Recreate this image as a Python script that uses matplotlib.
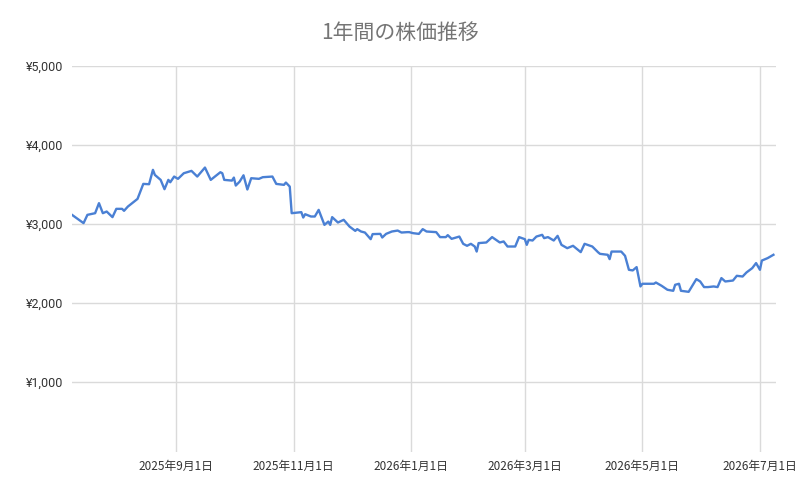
import matplotlib
matplotlib.use("Agg")
import matplotlib.pyplot as plt
import matplotlib.dates as mdates
from matplotlib.ticker import FixedLocator, FuncFormatter
import numpy as np
import datetime as dt

title = "1年間の株価推移"

dates = [
    "2025-07-09", "2025-07-15", "2025-07-17", "2025-07-21", "2025-07-23", "2025-07-25",
    "2025-07-27", "2025-07-30", "2025-08-01", "2025-08-04", "2025-08-05", "2025-08-07",
    "2025-08-12", "2025-08-15", "2025-08-18", "2025-08-20", "2025-08-21", "2025-08-24",
    "2025-08-26", "2025-08-28", "2025-08-29", "2025-08-31", "2025-09-02", "2025-09-05",
    "2025-09-09", "2025-09-12", "2025-09-16", "2025-09-19", "2025-09-24", "2025-09-25",
    "2025-09-26", "2025-09-30", "2025-10-01", "2025-10-02", "2025-10-04", "2025-10-06",
    "2025-10-08", "2025-10-10", "2025-10-14", "2025-10-16", "2025-10-21", "2025-10-23",
    "2025-10-27", "2025-10-28", "2025-10-30", "2025-10-31", "2025-11-05", "2025-11-06",
    "2025-11-07", "2025-11-10", "2025-11-12", "2025-11-14", "2025-11-17", "2025-11-19",
    "2025-11-20", "2025-11-21", "2025-11-24", "2025-11-27", "2025-11-30", "2025-12-03",
    "2025-12-04", "2025-12-06", "2025-12-08", "2025-12-11", "2025-12-12", "2025-12-16",
    "2025-12-17", "2025-12-19", "2025-12-22", "2025-12-25", "2025-12-27", "2025-12-30",
    "2025-12-31", "2026-01-02", "2026-01-05", "2026-01-07", "2026-01-09", "2026-01-14",
    "2026-01-16", "2026-01-19", "2026-01-20", "2026-01-22", "2026-01-26", "2026-01-28",
    "2026-01-30", "2026-02-01", "2026-02-03", "2026-02-04", "2026-02-05", "2026-02-09",
    "2026-02-12", "2026-02-16", "2026-02-18", "2026-02-20", "2026-02-24", "2026-02-26",
    "2026-03-01", "2026-03-02", "2026-03-03", "2026-03-05", "2026-03-07", "2026-03-10",
    "2026-03-11", "2026-03-13", "2026-03-16", "2026-03-18", "2026-03-20", "2026-03-23",
    "2026-03-26", "2026-03-30", "2026-04-01", "2026-04-05", "2026-04-08", "2026-04-09",
    "2026-04-13", "2026-04-14", "2026-04-15", "2026-04-20", "2026-04-22", "2026-04-24",
    "2026-04-26", "2026-04-28", "2026-04-29", "2026-04-30", "2026-05-01", "2026-05-07",
    "2026-05-08", "2026-05-11", "2026-05-14", "2026-05-17", "2026-05-18", "2026-05-20",
    "2026-05-21", "2026-05-25", "2026-05-29", "2026-05-31", "2026-06-02", "2026-06-04",
    "2026-06-07", "2026-06-09", "2026-06-11", "2026-06-13", "2026-06-17", "2026-06-19",
    "2026-06-22", "2026-06-24", "2026-06-27", "2026-06-29", "2026-07-01", "2026-07-02",
    "2026-07-05", "2026-07-08",
]

prices = [
    3114, 3009, 3114, 3135, 3262, 3135,
    3156, 3085, 3190, 3190, 3165, 3219,
    3316, 3506, 3502, 3684, 3620, 3557,
    3439, 3557, 3527, 3599, 3570, 3641,
    3671, 3599, 3713, 3557, 3654, 3641,
    3557, 3548, 3586, 3485, 3535, 3615,
    3435, 3578, 3570, 3591, 3599, 3506,
    3494, 3523, 3472, 3135, 3148, 3080,
    3122, 3093, 3093, 3177, 2987, 3029,
    2987, 3085, 3017, 3051, 2966, 2911,
    2933, 2903, 2890, 2806, 2870, 2873,
    2827, 2873, 2903, 2915, 2890, 2895,
    2895, 2882, 2873, 2933, 2903, 2895,
    2832, 2832, 2857, 2810, 2839, 2747,
    2722, 2747, 2713, 2649, 2756, 2764,
    2832, 2764, 2777, 2713, 2713, 2832,
    2806, 2734, 2797, 2789, 2839, 2861,
    2819, 2832, 2789, 2848, 2734, 2692,
    2722, 2642, 2747, 2713, 2640, 2620,
    2608, 2553, 2649, 2649, 2595, 2418,
    2410, 2452, 2333, 2207, 2241, 2241,
    2257, 2215, 2165, 2152, 2228, 2241,
    2152, 2139, 2300, 2270, 2199, 2199,
    2207, 2199, 2313, 2270, 2282, 2342,
    2333, 2384, 2439, 2503, 2418, 2535,
    2566, 2608,
]

x_ticks = ["2025-09-01", "2025-11-01", "2026-01-01", "2026-03-01", "2026-05-01", "2026-07-01"]
x_tick_labels = ["2025年9月1日", "2025年11月1日", "2026年1月1日", "2026年3月1日", "2026年5月1日", "2026年7月1日"]
y_ticks = [1000, 2000, 3000, 4000, 5000]

plt.rcParams['font.family'] = ['Noto Sans CJK JP', 'DejaVu Sans']

xd = [dt.datetime.strptime(d, "%Y-%m-%d") for d in dates]
xt = [dt.datetime.strptime(d, "%Y-%m-%d") for d in x_ticks]

fig = plt.figure(figsize=(8, 4.94), dpi=100)
ax = fig.add_axes([0.09, 0.085, 0.88, 0.7815])

ax.plot(xd, prices, color='#4a80d4', linewidth=1.7, solid_joinstyle='round', zorder=3)

ax.set_xlim(dt.datetime(2025, 7, 9), dt.datetime(2026, 7, 9, 8))
ax.set_ylim(110, 5000)

ax.xaxis.set_major_locator(FixedLocator(mdates.date2num(xt)))
ax.set_xticklabels(x_tick_labels)
ax.yaxis.set_major_locator(FixedLocator(y_ticks))
ax.yaxis.set_major_formatter(FuncFormatter(lambda v, p: "¥{:,.0f}".format(v)))

for s in ax.spines.values():
    s.set_visible(False)
ax.grid(True, color='#dadada', linewidth=1.0)
ax.set_axisbelow(True)
ax.tick_params(axis='both', length=0, colors='#333333')
ax.tick_params(axis='y', pad=6, labelsize=9)
ax.tick_params(axis='x', pad=6, labelsize=8.5)
for lbl in ax.get_yticklabels():
    lbl.set_family(['Roboto', 'DejaVu Sans'])

fig.text(0.5, 1 - 33 / 494, title, ha='center', va='center', fontsize=15, color='#757575')

fig.savefig("out.png", dpi=100, facecolor='white')
